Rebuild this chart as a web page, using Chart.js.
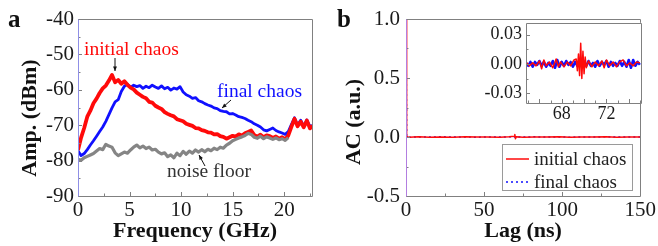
<!DOCTYPE html>
<html>
<head>
<meta charset="utf-8">
<script src="https://cdn.jsdelivr.net/npm/chart.js@4.4.1/dist/chart.umd.min.js"></script>
<style>
  html, body { margin: 0; padding: 0; background: #fff; }
  #wrap { position: relative; width: 658px; height: 246px; overflow: hidden; background: #fff; }
  #wrap canvas { position: absolute; }
</style>
</head>
<body>
<div id="wrap">
  <canvas id="specChart" width="330" height="246" style="left:0;top:0;"></canvas>
  <canvas id="acChart" width="328" height="246" style="left:330px;top:0;"></canvas>
  <canvas id="insetChart" width="180" height="118" style="left:466px;top:8px;"></canvas>
</div>
<script>
// ---- panel a: RF spectra (GHz, dBm) ----
const FREQ = [0.0,0.3,0.6,0.9,1.2,1.5,1.8,2.1,2.4,2.7,3.0,3.3,3.6,3.9,4.2,4.5,4.8,5.1,5.4,5.7,
  6.0,6.3,6.6,6.9,7.2,7.5,7.8,8.1,8.4,8.7,9.0,9.3,9.6,9.9,10.2,10.5,10.8,11.1,11.4,11.7,
  12.0,12.3,12.6,12.9,13.2,13.5,13.8,14.1,14.4,14.7,15.0,15.3,15.6,15.9,16.2,16.5,16.8,17.1,17.4,17.7,
  18.0,18.3,18.6,18.9,19.2,19.5,19.8,20.1,20.4,20.7,21.0,21.3,21.6,21.9,22.2,22.5,22.8];
const SPEC_INITIAL = [-77.0,-73.5,-70.8,-67.6,-65.9,-63.8,-62.5,-60.9,-59.6,-58.8,-57.4,-55.8,-57.9,-57.2,-58.3,-57.6,-58.6,-59.4,-59.9,-60.8,
  -61.4,-62.0,-62.4,-63.4,-63.6,-64.5,-65.0,-65.4,-66.3,-66.8,-67.2,-67.5,-68.3,-68.6,-68.9,-69.6,-69.9,-70.2,-70.8,-70.9,
  -71.4,-71.6,-72.0,-72.1,-72.6,-72.5,-73.1,-73.3,-73.8,-73.4,-73.0,-73.2,-72.6,-72.9,-72.3,-71.9,-71.5,-72.8,-73.2,-72.7,
  -73.4,-72.9,-73.1,-73.6,-73.2,-73.8,-73.4,-74.0,-72.9,-70.5,-68.2,-70.3,-69.0,-70.6,-68.7,-70.9,-70.2];
const SPEC_FINAL = [-77.2,-78.6,-78.0,-76.9,-75.6,-74.4,-73.1,-71.8,-70.5,-68.9,-67.0,-65.1,-63.4,-62.8,-60.5,-59.0,-58.4,-59.3,-58.7,-59.1,
  -58.8,-59.6,-59.0,-59.4,-58.7,-59.2,-59.6,-58.9,-59.7,-59.3,-60.1,-59.5,-59.8,-59.1,-60.6,-61.4,-61.8,-62.4,-62.2,-63.1,
  -63.4,-63.9,-64.3,-64.6,-65.1,-65.3,-65.9,-66.1,-66.2,-66.8,-66.7,-67.1,-67.6,-67.8,-68.1,-68.6,-69.0,-69.6,-70.0,-70.5,
  -71.3,-71.6,-71.2,-70.8,-71.5,-71.9,-72.2,-72.6,-71.8,-69.8,-67.9,-70.0,-68.6,-70.3,-68.5,-70.4,-70.0];
const SPEC_NOISE = [-79.6,-79.9,-79.2,-78.8,-78.4,-78.0,-77.3,-76.6,-76.9,-75.4,-75.9,-76.2,-77.8,-78.6,-78.1,-77.6,-77.9,-77.0,-76.2,-75.6,
  -76.4,-75.9,-76.6,-76.2,-77.0,-76.8,-77.6,-78.1,-77.8,-78.9,-78.4,-79.2,-77.9,-78.6,-77.4,-78.2,-77.3,-77.9,-77.0,-77.6,
  -76.9,-77.5,-76.8,-77.2,-76.5,-76.9,-76.2,-76.5,-75.6,-75.1,-74.4,-74.0,-73.6,-73.3,-72.9,-72.3,-72.6,-73.4,-73.7,-73.1,
  -73.8,-73.3,-73.6,-74.0,-73.6,-74.1,-73.8,-74.3,-73.5];
const FREQ_TICKS = [0, 5, 10, 15, 20];
const AMP_TICKS = [-90, -80, -70, -60, -50, -40];

// ---- panel b: autocorrelation ----
const LAG = [0, 0.4, 2, 8, 15, 22, 30, 38, 45, 52, 60, 66, 69.3, 69.7, 70.1, 70.6, 75, 82, 90, 98, 105, 112, 120, 128, 135, 142, 150];
const AC_INITIAL = [1.0, 0.004, -0.003, 0.002, -0.002, 0.001, -0.002, 0.002, -0.001, 0.001, -0.002, 0.002, 0.006, 0.021, -0.015, 0.003,
  -0.002, 0.001, -0.001, 0.002, -0.002, 0.001, -0.001, 0.002, -0.002, 0.001, 0.000];
const AC_FINAL = [1.0, 0.003, -0.002, 0.001, -0.001, 0.002, -0.001, 0.001, -0.002, 0.001, -0.001, 0.002, -0.001, 0.003, -0.002, 0.001,
  -0.001, 0.002, -0.001, 0.001, -0.002, 0.001, -0.001, 0.002, -0.001, 0.001, 0.000];
const LAG_TICKS = [0, 50, 100, 150];
const AC_TICKS = [-0.5, 0.0, 0.5, 1.0];

// inset, zoom around 70 ns
const INSET_LAG_INITIAL = [64.8,65.1,65.4,65.7,66.0,66.2,66.4,66.6,66.9,67.2,67.5,67.7,67.9,68.2,68.5,68.8,69.1,69.3,69.4,69.5,
  69.6,69.7,69.8,69.9,70.0,70.1,70.2,70.4,70.7,71.0,71.3,71.6,71.8,72.0,72.3,72.6,72.9,73.2,73.5,73.8,74.1,74.4,74.7,75.0];
const INSET_INITIAL = [0.002,-0.002,0.001,-0.002,0.003,-0.005,0.004,-0.002,0.002,-0.004,0.005,-0.003,0.002,-0.003,0.002,-0.002,0.004,0.005,-0.007,0.010,
  -0.012,0.021,-0.015,0.013,-0.010,0.007,-0.004,0.003,-0.003,0.002,-0.002,0.003,-0.004,0.004,-0.002,0.002,-0.003,0.002,0.004,-0.002,
  0.001,-0.002,0.002,0.001];
const INSET_LAG_FINAL = [64.8,65.0,65.2,65.4,65.6,65.8,66.0,66.2,66.4,66.6,66.8,67.0,67.2,67.4,67.6,67.8,68.0,68.2,68.4,68.6,
  68.8,69.0,69.2,69.4,69.6,69.8,70.0,70.2,70.4,70.6,70.8,71.0,71.2,71.4,71.6,71.8,72.0,72.2,72.4,72.6,
  72.8,73.0,73.2,73.4,73.6,73.8,74.0,74.2,74.4,74.6,74.8,75.0];
const INSET_FINAL = [0.001,-0.002,0.002,-0.003,0.002,-0.001,0.003,-0.002,0.002,-0.003,0.001,-0.002,0.003,-0.004,0.004,-0.003,0.002,-0.002,0.003,-0.001,
  0.002,-0.003,0.002,-0.002,0.004,-0.003,0.002,-0.002,0.003,-0.002,0.001,-0.003,0.003,-0.002,0.002,-0.001,0.003,-0.003,0.002,-0.002,
  0.001,-0.002,0.003,-0.002,0.002,-0.003,0.004,-0.004,0.004,-0.002,0.002,-0.001];
const INSET_X_TICKS = [68, 72];
const INSET_Y_TICKS = [-0.03, 0.00, 0.03];

const SERIF = "'Liberation Serif', 'Times New Roman', serif";
const RED = '#ff0a0a', BLUE = '#1010ff', GREY = '#858585', AXIS = '#808080';

const pts = (xs, ys) => ys.map((v, i) => ({ x: xs[i], y: v }));
const fixTicks = (vals) => (scale) => { scale.ticks = vals.map((v) => ({ value: v })); };

// box frame + small inward ticks (major and minor)
const framePlugin = {
  id: 'frame',
  beforeDatasetsDraw(chart, args, o) {
    if (!o.fill) return;
    const { ctx, chartArea: a } = chart;
    ctx.save();
    ctx.fillStyle = o.fill;
    ctx.fillRect(a.left, a.top, a.right - a.left, a.bottom - a.top);
    ctx.restore();
  },
  afterDatasetsDraw(chart, args, o) {
    const { ctx, chartArea: a, scales } = chart;
    ctx.save();
    ctx.lineWidth = 1;
    ctx.strokeStyle = AXIS;
    const marks = (scale, step, len, horiz) => {
      const start = Math.ceil(scale.min / step - 1e-6);
      const end = Math.floor(scale.max / step + 1e-6);
      for (let k = start; k <= end; k++) {
        const p = Math.round(scale.getPixelForValue(k * step)) + 0.5;
        ctx.beginPath();
        if (horiz) { ctx.moveTo(p, a.bottom); ctx.lineTo(p, a.bottom - len); }
        else { ctx.moveTo(a.left, p); ctx.lineTo(a.left + len, p); }
        ctx.stroke();
      }
    };
    marks(scales.x, o.xStep, 4, true);
    marks(scales.x, o.xStep / 2, 2.5, true);
    marks(scales.y, o.yStep, 4, false);
    marks(scales.y, o.yStep / 2, 2.5, false);
    const L = Math.round(a.left) + 0.5, R = Math.round(a.right) + 0.5;
    const T = Math.round(a.top) + 0.5, B = Math.round(a.bottom) + 0.5;
    ctx.beginPath();
    ctx.moveTo(L, B); ctx.lineTo(R, B); ctx.lineTo(R, T); ctx.lineTo(L, T);
    ctx.stroke();
    ctx.strokeStyle = o.leftColor || AXIS;
    ctx.beginPath(); ctx.moveTo(L, T); ctx.lineTo(L, B); ctx.stroke();
    ctx.restore();
  },
};

// free text, arrows, legend box
const notesPlugin = {
  id: 'notes',
  afterDraw(chart, args, o) {
    const ctx = chart.ctx;
    (o.texts || []).forEach((t) => {
      ctx.save();
      ctx.font = t.font;
      ctx.fillStyle = t.color || '#111';
      ctx.textAlign = t.align || 'left';
      ctx.textBaseline = 'middle';
      ctx.translate(t.x, t.y);
      if (t.rot) ctx.rotate(t.rot);
      ctx.fillText(t.text, 0, 0);
      ctx.restore();
    });
    (o.arrows || []).forEach(([x1, y1, x2, y2]) => {
      const ang = Math.atan2(y2 - y1, x2 - x1);
      ctx.save();
      ctx.strokeStyle = '#111'; ctx.fillStyle = '#111'; ctx.lineWidth = 1;
      ctx.beginPath(); ctx.moveTo(x1, y1); ctx.lineTo(x2, y2); ctx.stroke();
      ctx.beginPath();
      ctx.moveTo(x2, y2);
      ctx.lineTo(x2 - 5 * Math.cos(ang - 0.4), y2 - 5 * Math.sin(ang - 0.4));
      ctx.lineTo(x2 - 5 * Math.cos(ang + 0.4), y2 - 5 * Math.sin(ang + 0.4));
      ctx.closePath(); ctx.fill();
      ctx.restore();
    });
    const lg = o.legend;
    if (lg) {
      ctx.save();
      ctx.fillStyle = '#fff';
      ctx.fillRect(lg.x, lg.y, lg.w, lg.h);
      ctx.strokeStyle = '#9a9a9a'; ctx.lineWidth = 1;
      ctx.strokeRect(lg.x + 0.5, lg.y + 0.5, lg.w, lg.h);
      chart.data.datasets.forEach((ds, i) => {
        const y = lg.y + 15 + i * 23;
        ctx.strokeStyle = ds.borderColor;
        ctx.lineWidth = 1.5;
        ctx.setLineDash(ds.borderDash || []);
        ctx.beginPath(); ctx.moveTo(lg.x + 4, y); ctx.lineTo(lg.x + 27, y); ctx.stroke();
        ctx.setLineDash([]);
        ctx.fillStyle = '#222';
        ctx.font = '19px ' + SERIF;
        ctx.textBaseline = 'middle';
        ctx.fillText(ds.label, lg.x + 32, y + 1);
      });
      ctx.restore();
    }
  },
};

const tickFont = (size) => ({ family: SERIF, size, lineHeight: 1.2 });

function axes(opt) {
  return {
    x: {
      type: 'linear', min: opt.xMin, max: opt.xMax,
      afterBuildTicks: fixTicks(opt.xTicks),
      afterFit: (s) => { s.height = opt.xH; },
      grid: { display: false, drawTicks: false },
      border: { display: false },
      ticks: { font: tickFont(opt.fs), color: '#1a1a1a', padding: opt.xPad, maxRotation: 0,
        callback: opt.xFmt || ((v) => String(v)) },
      title: opt.xTitle ? { display: true, text: opt.xTitle, color: '#111',
        font: { family: SERIF, size: 22, weight: 'bold', lineHeight: 1 }, padding: { top: 0, bottom: 4 } } : { display: false },
    },
    y: {
      type: 'linear', min: opt.yMin, max: opt.yMax,
      afterBuildTicks: fixTicks(opt.yTicks),
      afterFit: (s) => { s.width = opt.yW; },
      grid: { display: false, drawTicks: false },
      border: { display: false },
      ticks: { font: tickFont(opt.fs), color: '#1a1a1a', padding: opt.yPad,
        callback: opt.yFmt || ((v) => String(v)) },
    },
  };
}

const common = {
  responsive: false,
  animation: false,
  events: [],
  elements: { point: { radius: 0 }, line: { tension: 0, borderJoinStyle: 'round' } },
};

// panel a
new Chart(document.getElementById('specChart'), {
  type: 'line',
  data: {
    datasets: [
      { label: 'noise floor', data: pts(FREQ, SPEC_NOISE), borderColor: GREY, borderWidth: 3.2 },
      { label: 'initial chaos', data: pts(FREQ, SPEC_INITIAL), borderColor: RED, borderWidth: 3.8 },
      { label: 'final chaos', data: pts(FREQ, SPEC_FINAL), borderColor: BLUE, borderWidth: 2.8 },
    ],
  },
  options: {
    ...common,
    layout: { padding: { left: 0, top: 19, right: 18, bottom: 0 } },
    scales: axes({ xMin: 0, xMax: 22.7, yMin: -90, yMax: -40, xTicks: FREQ_TICKS, yTicks: AMP_TICKS,
      xH: 50, yW: 78, fs: 21, xPad: 2, yPad: 4, xTitle: 'Frequency (GHz)' }),
    plugins: {
      legend: { display: false }, tooltip: { enabled: false },
      frame: { xStep: 5, yStep: 10, leftColor: '#8f8fe6' },
      notes: {
        texts: [
          { text: 'a', x: 8, y: 21, font: 'bold 25px ' + SERIF },
          { text: 'Amp. (dBm)', x: 30, y: 118, rot: -Math.PI / 2, align: 'center', font: 'bold 22px ' + SERIF },
          { text: 'initial chaos', x: 84, y: 50, color: RED, font: '19.5px ' + SERIF },
          { text: 'final chaos', x: 217, y: 92, color: BLUE, font: '19.5px ' + SERIF },
          { text: 'noise floor', x: 167, y: 172, color: '#333', font: '19.5px ' + SERIF },
        ],
        arrows: [[115, 58, 115, 71], [231, 100, 222, 108], [205, 166, 199, 155]],
      },
    },
  },
  plugins: [framePlugin, notesPlugin],
});

// panel b
new Chart(document.getElementById('acChart'), {
  type: 'line',
  data: {
    datasets: [
      { label: 'initial chaos', data: pts(LAG, AC_INITIAL), borderColor: RED, borderWidth: 1.5 },
      { label: 'final chaos', data: pts(LAG, AC_FINAL), borderColor: BLUE, borderWidth: 1.5, borderDash: [2, 3] },
    ],
  },
  options: {
    ...common,
    layout: { padding: { left: 0, top: 19, right: 16, bottom: 0 } },
    scales: axes({ xMin: 0, xMax: 150, yMin: -0.5, yMax: 1.0, xTicks: LAG_TICKS, yTicks: AC_TICKS,
      xH: 50, yW: 76, fs: 21, xPad: 2, yPad: 6, xTitle: 'Lag (ns)', yFmt: (v) => v.toFixed(1) }),
    plugins: {
      legend: { display: false }, tooltip: { enabled: false },
      frame: { xStep: 50, yStep: 0.5, leftColor: '#b27ee0' },
      notes: {
        texts: [
          { text: 'b', x: 7, y: 21, font: 'bold 25px ' + SERIF },
          { text: 'AC (a.u.)', x: 24, y: 122, rot: -Math.PI / 2, align: 'center', font: 'bold 22px ' + SERIF },
        ],
        legend: { x: 172, y: 144, w: 130, h: 46 },
      },
    },
  },
  plugins: [framePlugin, notesPlugin],
});

// inset of panel b
new Chart(document.getElementById('insetChart'), {
  type: 'line',
  data: {
    datasets: [
      { label: 'initial chaos', data: pts(INSET_LAG_INITIAL, INSET_INITIAL), borderColor: RED, borderWidth: 1.5 },
      { label: 'final chaos', data: pts(INSET_LAG_FINAL, INSET_FINAL), borderColor: BLUE, borderWidth: 2.5 },
    ],
  },
  options: {
    ...common,
    layout: { padding: { left: 0, top: 11, right: 5, bottom: 0 } },
    scales: axes({ xMin: 64.8, xMax: 75.1, yMin: -0.04, yMax: 0.042, xTicks: INSET_X_TICKS, yTicks: INSET_Y_TICKS,
      xH: 23, yW: 60, fs: 18, xPad: 0, yPad: 4, yFmt: (v) => v.toFixed(2) }),
    plugins: {
      legend: { display: false }, tooltip: { enabled: false },
      frame: { xStep: 2, yStep: 0.03, fill: '#fff' },
    },
  },
  plugins: [framePlugin],
});
</script>
</body>
</html>
